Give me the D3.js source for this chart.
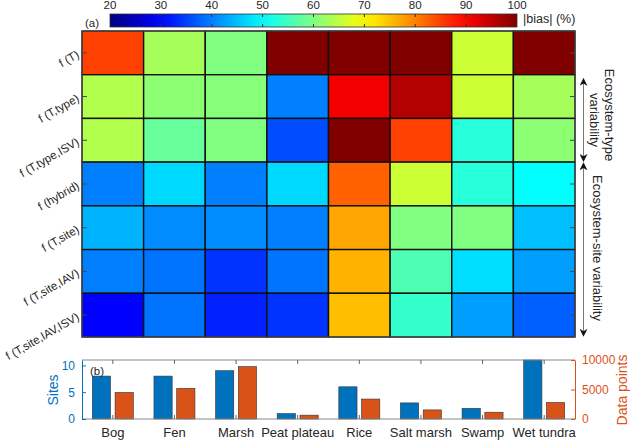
<!DOCTYPE html>
<html>
<head>
<meta charset="utf-8">
<script src="https://cdn.jsdelivr.net/npm/d3@7"></script>
<style>
	body { margin:0; background:#fff; }
	svg { display:block; font-family:"Liberation Sans", Arial, Helvetica, sans-serif; }
	text { fill:#262626; }
</style>
</head>
<body>
<div id="chart"></div>
<script>
// ecosystems (columns) and model variants (rows)
var categories = ['Bog','Fen','Marsh','Peat plateau','Rice','Salt marsh','Swamp','Wet tundra'];
var models = ['f (T)','f (T,type)','f (T,type,ISV)','f (hybrid)','f (T,site)','f (T,site,IAV)','f (T,site,IAV,ISV)'];

// |bias| (%) per row
var fT           = [85, 63, 60, 100, 100, 100, 66, 100];
var fTtype       = [64, 61, 60.5, 40, 91, 96, 66, 63];
var fTtypeISV    = [64, 58, 60, 36, 100, 85, 53, 61];
var fHybrid      = [40, 47, 40, 47, 82.5, 66, 53, 50];
var fTsite       = [44, 41, 41, 40, 77, 60, 60, 45];
var fTsiteIAV    = [40, 39, 34, 39, 76, 56, 47.5, 42.5];
var fTsiteIAVISV = [30, 39, 32.5, 34, 75, 54, 42.5, 37.5];
var biasRows = [fT, fTtype, fTtypeISV, fHybrid, fTsite, fTsiteIAV, fTsiteIAVISV];

// panel b
var sites = [8, 8, 9, 1, 6, 3, 2, 11];
var dataPoints = [4500, 5200, 8870, 650, 3380, 1540, 1150, 2800];

var cbTicks = [20,30,40,50,60,70,80,90,100];
var sitesTicks = [0,5,10];
var pointsTicks = [0,5000,10000];

var W = 630, H = 440;
var blue = '#0072BD', orange = '#D95319';

var svg = d3.select('#chart').append('svg')
	.attr('width', W)
	.attr('height', H);

// jet colormap
var jet = d3.scaleLinear()
	.domain([20, 30, 50, 70, 90, 100])
	.range(['#000080','#0000ff','#00ffff','#ffff00','#ff0000','#800000'])
	.clamp(true);

var x = d3.scaleBand().domain(categories).range([82, 575]);
var y = d3.scaleBand().domain(models).range([31, 337]);

// heatmap cells
var cells = [];
biasRows.forEach(function(row, i) {
	row.forEach(function(v, j) {
		cells.push({model: models[i], cat: categories[j], v: v});
	});
});

svg.append('g').selectAll('rect')
	.data(cells)
	.enter().append('rect')
	.attr('x', function(d) { return x(d.cat); })
	.attr('y', function(d) { return y(d.model); })
	.attr('width', x.bandwidth())
	.attr('height', y.bandwidth())
	.attr('fill', function(d) { return jet(d.v); })
	.attr('stroke', '#111')
	.attr('stroke-width', 1.4);

// box + small side ticks
svg.append('rect')
	.attr('x', 82).attr('y', 31)
	.attr('width', 493).attr('height', 306)
	.attr('fill', 'none')
	.attr('stroke', '#555')
	.attr('stroke-width', 1);

var sideTicks = svg.append('g');
models.forEach(function(m) {
	var cy = y(m) + y.bandwidth()/2;
	sideTicks.append('line').attr('x1', 82).attr('x2', 87).attr('y1', cy).attr('y2', cy).attr('stroke', '#444');
	sideTicks.append('line').attr('x1', 570).attr('x2', 575).attr('y1', cy).attr('y2', cy).attr('stroke', '#444');
});

// rotated row labels
svg.append('g').selectAll('text')
	.data(models)
	.enter().append('text')
	.attr('text-anchor', 'end')
	.attr('font-size', 11.5)
	.attr('transform', function(d) {
		var cy = y(d) + y.bandwidth()/2;
		return 'translate(80,' + (cy + 4) + ') rotate(-30)';
	})
	.text(function(d) { return d; });

// colorbar
var cb = d3.scaleLinear().domain([20, 100]).range([110, 517]);
var defs = svg.append('defs');
var grad = defs.append('linearGradient').attr('id', 'jetgrad');
d3.range(0, 1.0001, 0.05).forEach(function(t) {
	grad.append('stop')
		.attr('offset', (t*100) + '%')
		.attr('stop-color', jet(20 + t*80));
});
svg.append('rect')
	.attr('x', cb(20)).attr('y', 14)
	.attr('width', cb(100) - cb(20)).attr('height', 13)
	.attr('fill', 'url(#jetgrad)')
	.attr('stroke', '#333')
	.attr('stroke-width', 0.8);

var cbg = svg.append('g');
cbTicks.forEach(function(t) {
	if (t > 20 && t < 100) {
		cbg.append('line').attr('x1', cb(t)).attr('x2', cb(t)).attr('y1', 14).attr('y2', 17).attr('stroke', '#333');
		cbg.append('line').attr('x1', cb(t)).attr('x2', cb(t)).attr('y1', 24).attr('y2', 27).attr('stroke', '#333');
	}
	cbg.append('text')
		.attr('x', cb(t)).attr('y', 9)
		.attr('text-anchor', 'middle')
		.attr('font-size', 11.5)
		.text(t);
});
svg.append('text').attr('x', 523).attr('y', 23).attr('font-size', 12.5).text('|bias| (%)');
svg.append('text').attr('x', 85).attr('y', 27).attr('font-size', 11.5).text('(a)');

// arrows on the right
defs.append('marker')
	.attr('id', 'head')
	.attr('viewBox', '0 0 10 10')
	.attr('refX', 9).attr('refY', 5)
	.attr('markerWidth', 8).attr('markerHeight', 8)
	.attr('markerUnits', 'userSpaceOnUse')
	.attr('orient', 'auto-start-reverse')
	.append('path')
	.attr('d', 'M0,0 L10,5 L0,10 L3,5 z')
	.attr('fill', '#111');

var typeTop = y('f (T,type)') + 4, typeBot = y('f (hybrid)') - 1;
var siteTop = y('f (hybrid)') + 1, siteBot = 336;
svg.append('line')
	.attr('x1', 583.5).attr('x2', 583.5).attr('y1', typeTop).attr('y2', typeBot)
	.attr('stroke', '#777').attr('stroke-width', 1)
	.attr('marker-start', 'url(#head)').attr('marker-end', 'url(#head)');
svg.append('line')
	.attr('x1', 583.5).attr('x2', 583.5).attr('y1', siteTop).attr('y2', siteBot)
	.attr('stroke', '#777').attr('stroke-width', 1)
	.attr('marker-start', 'url(#head)').attr('marker-end', 'url(#head)');

function vlabel(txt, cx, cy) {
	svg.append('text')
		.attr('transform', 'translate(' + cx + ',' + cy + ') rotate(90)')
		.attr('text-anchor', 'middle')
		.attr('font-size', 13)
		.text(txt);
}
vlabel('Ecosystem-type', 605, 115);
vlabel('variability', 590, 120);
vlabel('Ecosystem-site variability', 593, 248);

// panel b: bars
var ySites = d3.scaleLinear().domain([0, 11]).range([419, 360]);
var yPoints = d3.scaleLinear().domain([0, 10000]).range([419, 360]);
var inner = d3.scaleBand().domain(['sites','points']).range([-20.5, 20.5]).paddingInner(0.2);

var bars = svg.append('g');
categories.forEach(function(c, i) {
	var cx = x(c) + x.bandwidth()/2;
	bars.append('rect')
		.attr('x', cx + inner('sites'))
		.attr('y', ySites(Math.min(sites[i], 11)))
		.attr('width', inner.bandwidth())
		.attr('height', 419 - ySites(Math.min(sites[i], 11)))
		.attr('fill', blue).attr('stroke', '#333').attr('stroke-width', 0.6);
	bars.append('rect')
		.attr('x', cx + inner('points'))
		.attr('y', yPoints(dataPoints[i]))
		.attr('width', inner.bandwidth())
		.attr('height', 419 - yPoints(dataPoints[i]))
		.attr('fill', orange).attr('stroke', '#333').attr('stroke-width', 0.6);
});

// bar box
svg.append('line').attr('x1', 82).attr('x2', 575).attr('y1', 360).attr('y2', 360).attr('stroke', '#888');
svg.append('line').attr('x1', 82).attr('x2', 575).attr('y1', 419).attr('y2', 419).attr('stroke', '#888');
categories.forEach(function(c) {
	var cx = x(c) + x.bandwidth()/2;
	svg.append('line').attr('x1', cx).attr('x2', cx).attr('y1', 360).attr('y2', 364).attr('stroke', '#666');
	svg.append('line').attr('x1', cx).attr('x2', cx).attr('y1', 419).attr('y2', 415).attr('stroke', '#666');
});

var leftAxis = svg.append('g')
	.attr('transform', 'translate(82,0)')
	.call(d3.axisLeft(ySites).tickValues(sitesTicks).tickSizeInner(-4).tickSizeOuter(0).tickPadding(7));
leftAxis.selectAll('path, line').attr('stroke', blue);
leftAxis.selectAll('text').style('fill', blue).attr('font-size', 12).attr('font-family', null);

var rightAxis = svg.append('g')
	.attr('transform', 'translate(575,0)')
	.call(d3.axisRight(yPoints).tickValues(pointsTicks).tickFormat(d3.format('d')).tickSizeInner(-4).tickSizeOuter(0).tickPadding(7));
rightAxis.selectAll('path, line').attr('stroke', orange);
rightAxis.selectAll('text').style('fill', orange).attr('font-size', 12).attr('font-family', null);

svg.append('text')
	.attr('transform', 'translate(58,390) rotate(-90)')
	.attr('text-anchor', 'middle')
	.attr('font-size', 14)
	.style('fill', blue)
	.text('Sites');
svg.append('text')
	.attr('transform', 'translate(627,390) rotate(-90)')
	.attr('text-anchor', 'middle')
	.attr('font-size', 14)
	.style('fill', orange)
	.text('Data points');

svg.append('text').attr('x', 90).attr('y', 375).attr('font-size', 11.5).text('(b)');

svg.append('g').selectAll('text')
	.data(categories)
	.enter().append('text')
	.attr('x', function(d) { return x(d) + x.bandwidth()/2; })
	.attr('y', 437)
	.attr('text-anchor', 'middle')
	.attr('font-size', 13)
	.text(function(d) { return d; });
</script>
</body>
</html>
